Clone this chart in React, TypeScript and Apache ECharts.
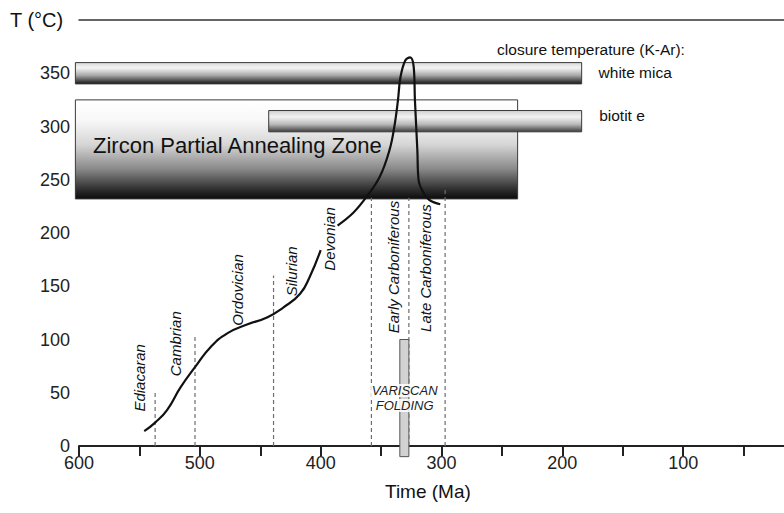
import React, { useEffect, useRef } from "react";
import * as echarts from "echarts";

// Thermal path (Ma, °C)
const pathEarly: [number, number][] = [
  [546, 14], [537, 22], [527, 34], [516, 55], [504, 74], [491, 93], [477, 106],
  [461, 114], [444, 121], [431, 130], [417, 143], [409, 159], [400, 184],
];
const pathLate: [number, number][] = [
  [386, 207], [373, 219], [362, 234], [351, 253], [343, 278], [339, 300], [336, 325],
  [334, 346], [330, 362], [326, 365], [323, 356], [322, 325], [320, 278], [319, 250],
  [315, 238], [310, 231], [301, 227],
];

// Shaded bands: [fromMa, toMa, lowT, highT]
const zpazBand: number[] = [603, 237, 232, 325];
const whiteMicaBand: number[] = [603, 184, 340, 360];
const biotiteBand: number[] = [443, 184, 295, 315];

// Period boundaries: [Ma, top °C]
const boundaries: [number, number][] = [
  [537, 50], [504, 104], [439, 160], [358, 233], [327, 233], [297, 243],
];

// Period labels: [Ma, °C, name]
const periodLabels: [number, number, string][] = [
  [550.3, 64, "Ediacaran"],
  [520.5, 96, "Cambrian"],
  [469, 146.5, "Ordovician"],
  [424.5, 164, "Silurian"],
  [393, 194.4, "Devonian"],
  [340, 168, "Early Carboniferous"],
  [313.6, 167, "Late Carboniferous"],
];

// Variscan folding bar: [fromMa, toMa, lowT, highT]
const variscanBar: number[] = [334.5, 327, -10, 100];

// Plain annotations: [Ma, °C, text]
const notes: [number, number, string][] = [
  [588.4, 282.6, "Zircon Partial Annealing Zone"],
  [254, 372, "closure temperature (K-Ar):"],
  [170, 351, "white mica"],
  [169.5, 310, "biotit e"],
];
const variscanText: [number, number, string][] = [
  [330.5, 52, "VARISCAN"],
  [330.5, 38, "FOLDING"],
];

const yTickValues = [0, 50, 100, 150, 200, 250, 300, 350];
const xLabelValues = [600, 500, 400, 300, 200, 100];

const FONT = '"Liberation Sans", Arial, Helvetica, sans-serif';

const grad = (stops: [number, string][]) =>
  new echarts.graphic.LinearGradient(
    0, 0, 0, 1,
    stops.map(([offset, color]) => ({ offset, color }))
  );

export default function App() {
  const ref = useRef<HTMLDivElement>(null);
  useEffect(() => {
    if (!ref.current) return;
    const chart = echarts.init(ref.current, null, { renderer: "svg" });

    const bandSeries = (band: number[], fill: any, z: number) => ({
      type: "custom",
      z,
      data: [band],
      encode: { x: [0, 1], y: [2, 3] },
      renderItem: (params: any, api: any) => {
        const p0 = api.coord([api.value(0), api.value(3)]);
        const p1 = api.coord([api.value(1), api.value(2)]);
        return {
          type: "rect",
          shape: { x: p0[0], y: p0[1], width: p1[0] - p0[0], height: p1[1] - p0[1] },
          style: { fill, stroke: "#3a3a3a", lineWidth: 1 },
        };
      },
      silent: true,
    });

    const option: any = {
      animation: false,
      grid: {
        left: 79,
        top: 20,
        width: 725,
        height: 426,
        containLabel: false,
        outerBoundsMode: "none",
      },
      xAxis: [
        {
          type: "value",
          inverse: true,
          min: 0,
          max: 600,
          interval: 50,
          axisLine: { show: true, lineStyle: { color: "#222", width: 2 } },
          axisTick: { show: true, length: 10, inside: false, lineStyle: { color: "#222", width: 2 } },
          axisLabel: {
            margin: 8,
            color: "#222",
            fontSize: 18,
            fontFamily: FONT,
            formatter: (v: number) => (xLabelValues.includes(v) ? String(v) : ""),
          },
          splitLine: { show: false },
        },
        {
          type: "value",
          inverse: true,
          position: "top",
          min: 0,
          max: 600,
          axisLine: { show: true, lineStyle: { color: "#333", width: 1.5 } },
          axisTick: { show: false },
          axisLabel: { show: false },
          splitLine: { show: false },
        },
      ],
      yAxis: {
        type: "value",
        min: 0,
        max: 400,
        interval: 50,
        axisLine: { show: true, lineStyle: { color: "#222", width: 2 } },
        axisTick: { show: true, length: 7, customValues: yTickValues, lineStyle: { color: "#222", width: 2 } },
        axisLabel: {
          margin: 9,
          color: "#222",
          fontSize: 18,
          fontFamily: FONT,
          customValues: yTickValues,
          verticalAlign: "middle",
          formatter: (v: number) => (v >= 400 ? "" : String(v)),
        },
        splitLine: { show: false },
      },
      graphic: [
        {
          type: "text",
          left: 10,
          top: 10,
          style: { text: "T (°C)", font: `20px ${FONT}`, fill: "#111" },
        },
        {
          type: "text",
          left: 385,
          top: 482,
          style: { text: "Time (Ma)", font: `19px ${FONT}`, fill: "#111" },
        },
      ],
      series: [
        bandSeries(
          zpazBand,
          grad([[0, "#ffffff"], [0.2, "#f8f8f8"], [0.45, "#d6d6d6"], [0.7, "#888888"], [0.9, "#303030"], [1, "#0c0c0c"]]),
          1
        ),
        bandSeries(
          whiteMicaBand,
          grad([[0, "#d8d8d8"], [0.25, "#f4f4f4"], [0.6, "#a8a8a8"], [1, "#161616"]]),
          2
        ),
        bandSeries(
          biotiteBand,
          grad([[0, "#d0d0d0"], [0.3, "#f2f2f2"], [0.65, "#b8b8b8"], [1, "#3c3c3c"]]),
          3
        ),
        {
          type: "custom",
          z: 4,
          silent: true,
          data: boundaries,
          encode: { x: 0, y: 1 },
          renderItem: (params: any, api: any) => {
            const p0 = api.coord([api.value(0), 0]);
            const p1 = api.coord([api.value(0), api.value(1)]);
            return {
              type: "line",
              shape: { x1: p0[0], y1: p0[1], x2: p1[0], y2: p1[1] },
              style: { stroke: "#6e6e6e", lineWidth: 1.2, lineDash: [4, 3] },
            };
          },
        },
        {
          type: "custom",
          z: 5,
          silent: true,
          data: [variscanBar],
          encode: { x: [0, 1], y: [2, 3] },
          renderItem: (params: any, api: any) => {
            const p0 = api.coord([api.value(0), api.value(3)]);
            const p1 = api.coord([api.value(1), api.value(2)]);
            return {
              type: "rect",
              shape: { x: p0[0], y: p0[1], width: p1[0] - p0[0], height: p1[1] - p0[1] },
              style: { fill: "#d2d2d2", stroke: "#555", lineWidth: 1 },
            };
          },
        },
        {
          type: "line",
          z: 6,
          data: pathEarly,
          smooth: 0.5,
          showSymbol: false,
          symbol: "none",
          lineStyle: { color: "#111", width: 2.2 },
          silent: true,
        },
        {
          type: "line",
          z: 6,
          data: pathLate,
          smooth: 0.4,
          showSymbol: false,
          symbol: "none",
          lineStyle: { color: "#111", width: 2.2 },
          silent: true,
        },
        {
          type: "custom",
          z: 7,
          silent: true,
          data: periodLabels,
          encode: { x: 0, y: 1 },
          renderItem: (params: any, api: any) => {
            const item = periodLabels[params.dataIndex];
            const p = api.coord([item[0], item[1]]);
            return {
              type: "text",
              x: p[0],
              y: p[1],
              rotation: Math.PI / 2,
              style: {
                text: item[2],
                font: `italic 15px ${FONT}`,
                fill: "#111",
                align: "center",
                verticalAlign: "middle",
              },
            };
          },
        },
        {
          type: "custom",
          z: 8,
          silent: true,
          data: notes,
          encode: { x: 0, y: 1 },
          renderItem: (params: any, api: any) => {
            const item = notes[params.dataIndex];
            const p = api.coord([item[0], item[1]]);
            const big = params.dataIndex === 0;
            return {
              type: "text",
              x: p[0],
              y: p[1],
              style: {
                text: item[2],
                font: `${big ? 22 : 15.5}px ${FONT}`,
                fill: "#111",
                align: "left",
                verticalAlign: "middle",
              },
            };
          },
        },
        {
          type: "custom",
          z: 9,
          silent: true,
          data: variscanText,
          encode: { x: 0, y: 1 },
          renderItem: (params: any, api: any) => {
            const item = variscanText[params.dataIndex];
            const p = api.coord([item[0], item[1]]);
            return {
              type: "text",
              x: p[0],
              y: p[1],
              style: {
                text: item[2],
                font: `italic 13px ${FONT}`,
                fill: "#222",
                align: "center",
                verticalAlign: "middle",
                backgroundColor: "rgba(255,255,255,0.85)",
                padding: [0, 1],
              },
            };
          },
        },
      ],
    };

    chart.setOption(option);
    return () => chart.dispose();
  }, []);

  return (
    <div
      ref={ref}
      style={{ position: "fixed", left: 0, top: 0, width: 784, height: 513, background: "#fff" }}
    />
  );
}
